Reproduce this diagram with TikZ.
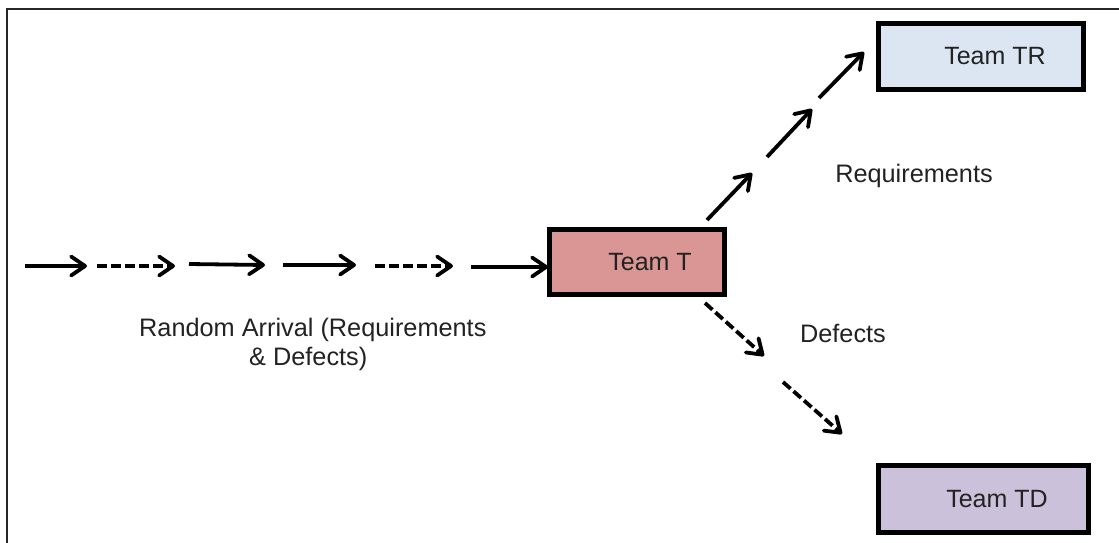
\documentclass[tikz,border=0pt]{standalone}
\usepackage{fontspec}
\setmainfont{Liberation Sans}
\usetikzlibrary{arrows.meta}
\definecolor{tfill}{HTML}{D99694}
\definecolor{trfill}{HTML}{DCE6F2}
\definecolor{tdfill}{HTML}{CCC1DA}
\definecolor{txt}{HTML}{222222}
\tikzset{
  team/.style={draw=black, line width=5pt, rectangle, inner sep=0pt, text=txt,
    font=\fontsize{25}{29}\selectfont},
  flow/.style={line width=3.8pt, -{Straight Barb[length=14pt,width=19pt,round]}},
  dflow/.style={flow, dash pattern=on 10pt off 4pt},
  lbl/.style={text=txt, font=\fontsize{25.3}{29}\selectfont, inner sep=0pt},
}
\begin{document}
\begin{tikzpicture}[x=1pt,y=-1pt]
\useasboundingbox (0,0) rectangle (1119,542);
% frame
\draw[line width=2pt, draw=black!85] (7,560) -- (7,9) -- (1130,9);
% boxes
\node[team, fill=tfill, minimum width=175pt, minimum height=65pt] (T) at (637,262) {\hspace*{26pt}Team T};
\node[team, fill=trfill, minimum width=205pt, minimum height=66pt] (TR) at (981,56.5) {\hspace*{28pt}Team TR};
\node[team, fill=tdfill, minimum width=210pt, minimum height=67pt] (TD) at (983.5,499) {\hspace*{27pt}Team TD};
% labels
\node[lbl] (req) at (914,176) {Requirements};
\node[lbl] (def) at (843,333) {Defects};
\node[lbl, align=left, anchor=north west] (rand) at (139,318) {Random Arrival (Requirements\\[0pt]\hspace*{110pt}\& Defects)};
% left chain coordinates
\coordinate (a1) at (25,266);  \coordinate (b1) at (87,266);
\coordinate (a2) at (97,266);  \coordinate (b2) at (175,266);
\coordinate (a3) at (189,264); \coordinate (b3) at (265,265);
\coordinate (a4) at (283,265); \coordinate (b4) at (356,265);
\coordinate (a5) at (375,266); \coordinate (b5) at (453,266);
\coordinate (a6) at (471,267); \coordinate (b6) at (548,267);
\draw[flow]  (a1) -- (b1);
\draw[dflow] (a2) -- (b2);
\draw[flow]  (a3) -- (b3);
\draw[flow]  (a4) -- (b4);
\draw[dflow] (a5) -- (b5);
\draw[flow]  (a6) -- (b6);
% requirements branch
\coordinate (r1) at (707,220); \coordinate (s1) at (752,173);
\coordinate (r2) at (767,157); \coordinate (s2) at (812,109);
\coordinate (r3) at (819,98);  \coordinate (s3) at (864,52);
\draw[flow] (r1) -- (s1);
\draw[flow] (r2) -- (s2);
\draw[flow] (r3) -- (s3);
% defects branch
\coordinate (d1) at (705,303); \coordinate (e1) at (764,356);
\coordinate (d2) at (783,382); \coordinate (e2) at (842,434);
\draw[dflow] (d1) -- (e1);
\draw[dflow] (d2) -- (e2);
\end{tikzpicture}
\end{document}
